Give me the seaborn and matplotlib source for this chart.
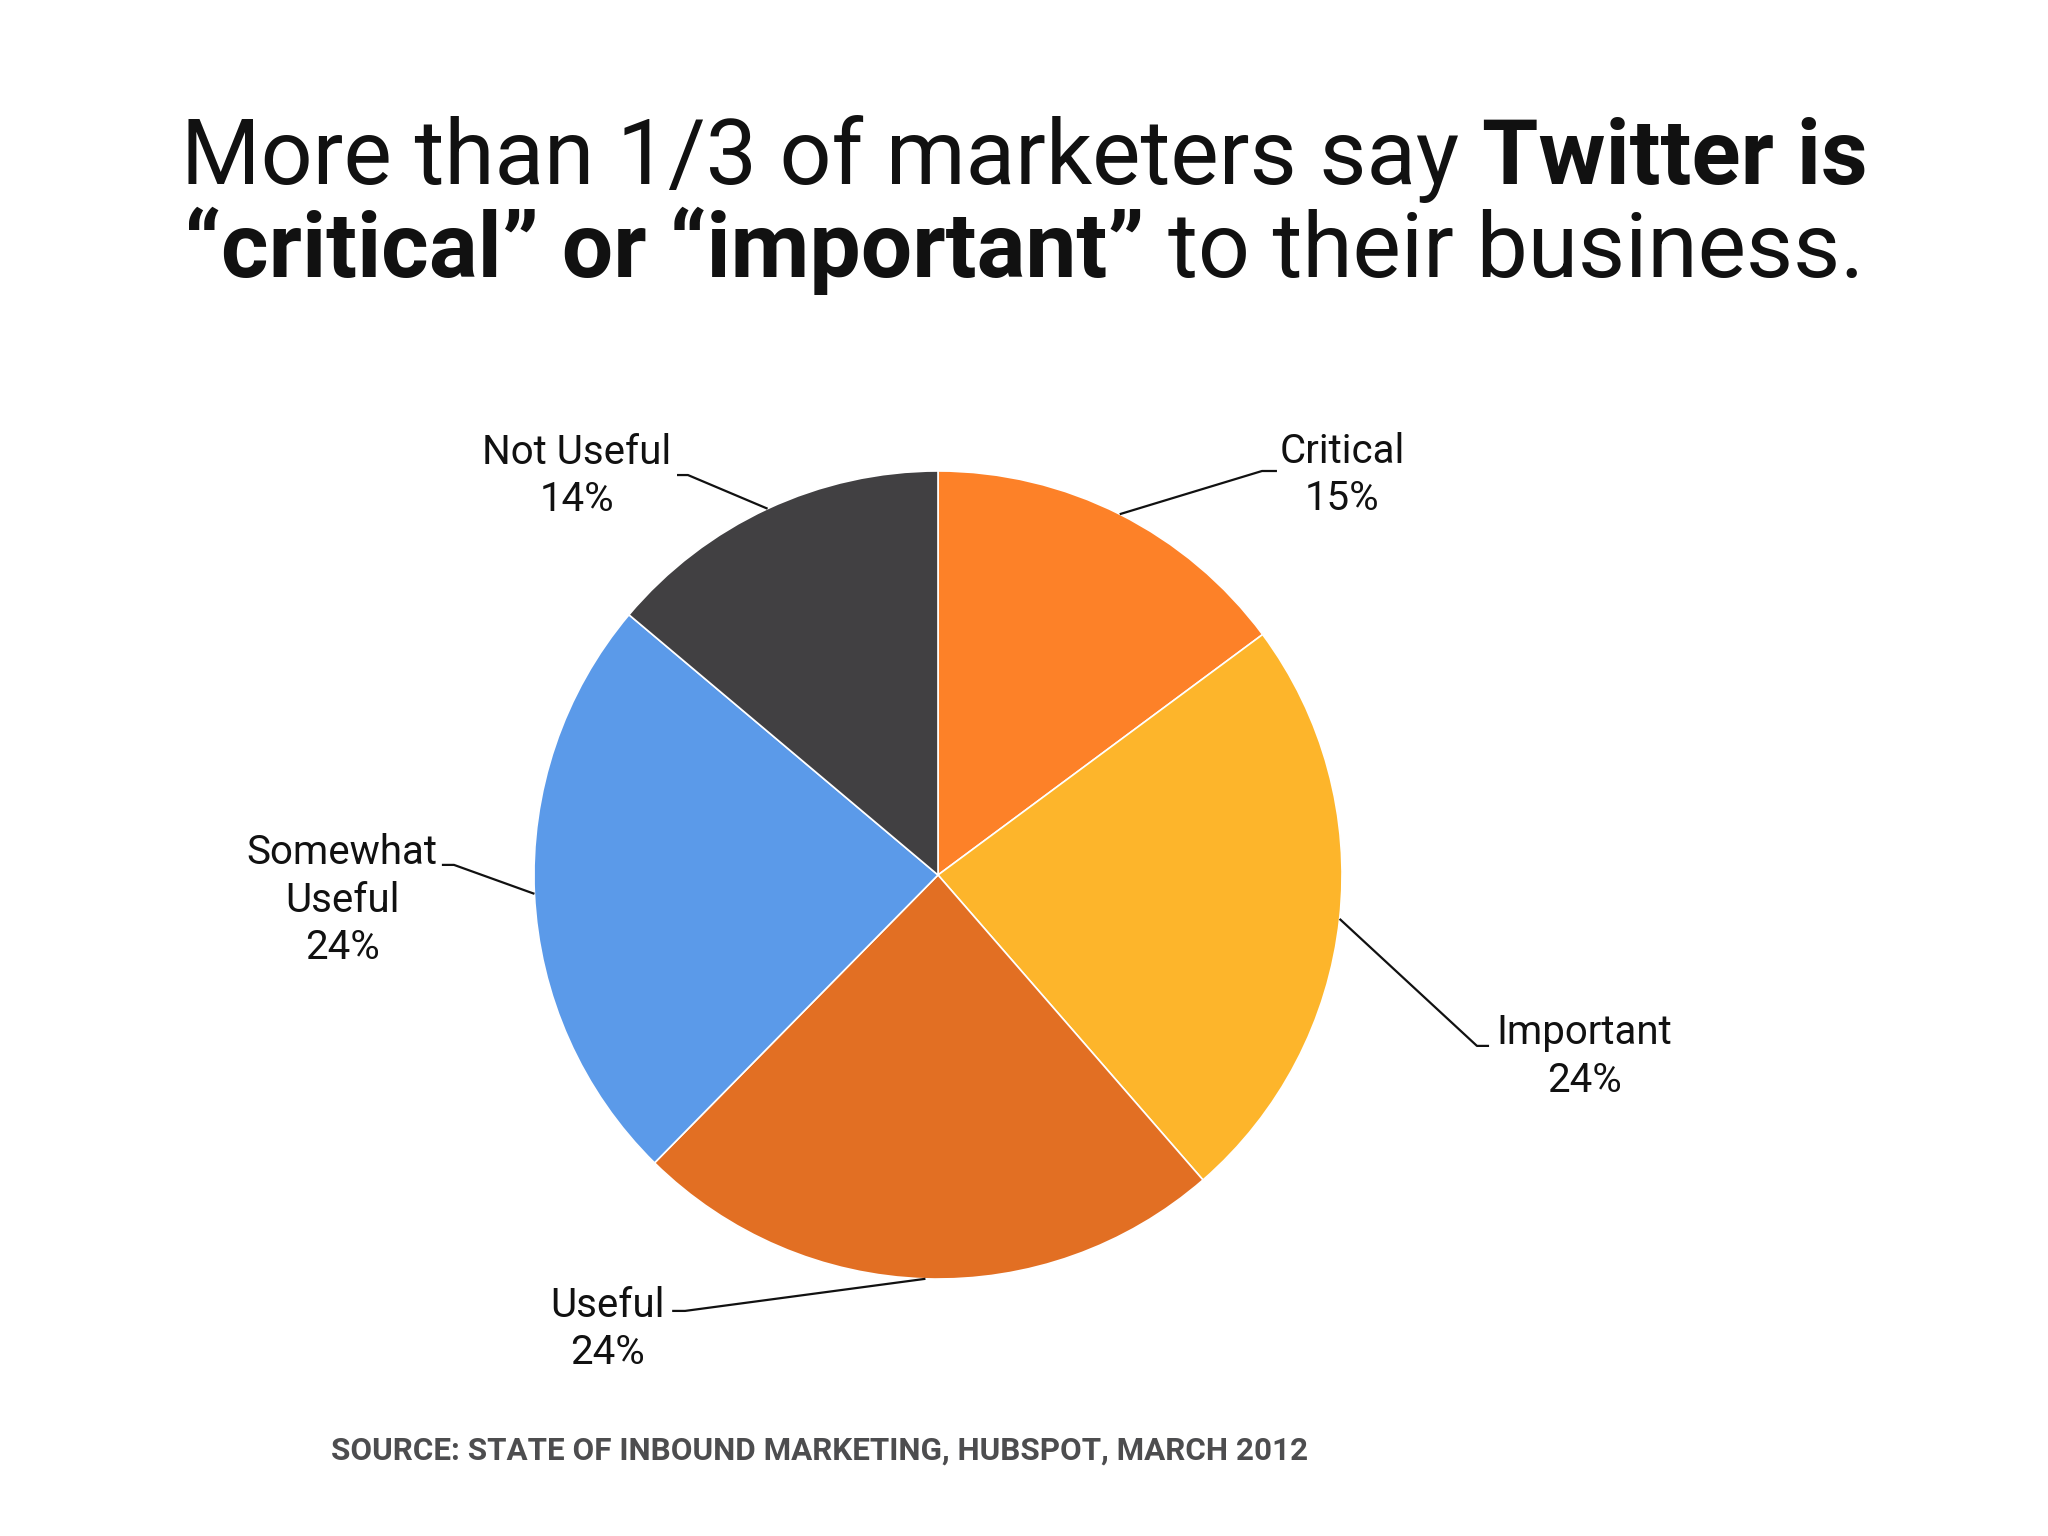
import matplotlib
matplotlib.use('Agg')
import matplotlib.pyplot as plt
import seaborn as sns
import numpy as np

# data
categories = ['Critical', 'Important', 'Useful', 'Somewhat\nUseful', 'Not Useful']
shares = [15, 24, 24, 24, 14]
colors = ['#FD8128', '#FDB52B', '#E26F23', '#5B9AE9', '#414042']

title_line1 = [('More than 1/3 of marketers say', 'normal'), ('Twitter is', 'bold')]
title_line2 = [('\u201ccritical\u201d or \u201cimportant\u201d', 'bold'), ('to their business.', 'normal')]
source_text = 'SOURCE: STATE OF INBOUND MARKETING, HUBSPOT, MARCH 2012'

# label layout (units of pie radius): text centre, elbow, tail of horizontal stub
label_pos = [(1.00, 0.99), (1.60, -0.45), (-0.817, -1.124), (-1.475, -0.062), (-0.894, 0.988)]
elbow_pos = [(0.802, 1.0), (1.334, -0.423), (-0.626, -1.079), (-1.198, 0.025), (-0.619, 0.99)]
tail_pos = [(0.839, 1.0), (1.364, -0.423), (-0.658, -1.079), (-1.228, 0.025), (-0.646, 0.99)]

sns.set_theme(style='white')
plt.rcParams['font.family'] = ['Roboto', 'DejaVu Sans']

fig = plt.figure(figsize=(20.48, 15.36), dpi=100)
fig.patch.set_facecolor('white')
ax = fig.add_axes([0, 0, 1, 1])

wedges, _ = ax.pie(shares, colors=colors, startangle=90, counterclock=False, radius=1,
                   wedgeprops=dict(edgecolor='white', linewidth=1.2))

R = 404  # pie radius in pixels
ax.set_xlim(-938 / R, (2048 - 938) / R)
ax.set_ylim((875 - 1536) / R, 875 / R)
ax.set_aspect('equal')
ax.axis('off')

for w, cat, val, tp, ep, sp in zip(wedges, categories, shares, label_pos, elbow_pos, tail_pos):
    mid = np.deg2rad((w.theta1 + w.theta2) / 2)
    ax.plot([np.cos(mid), ep[0], sp[0]], [np.sin(mid), ep[1], sp[1]],
            color='#111111', lw=1.6, solid_capstyle='butt')
    ax.text(tp[0], tp[1], f'{cat}\n{val}%', ha='center', va='center',
            multialignment='center', fontsize=29, color='#111111', linespacing=1.28)

# title, mixed weights
r = fig.canvas.get_renderer()
title_size = 65.6
gap = 0.25 * title_size * 100 / 72


def title_line(parts, y):
    texts = [fig.text(0, y, s, fontsize=title_size, fontweight=wt, color='#111111',
                      ha='left', va='baseline') for s, wt in parts]
    widths = [t.get_window_extent(r).width for t in texts]
    x = (fig.bbox.width - sum(widths) - gap * (len(texts) - 1)) / 2
    for t, wd in zip(texts, widths):
        t.set_x(x / fig.bbox.width)
        x += wd + gap


title_line(title_line1, 1 - 184 / 1536)
title_line(title_line2, 1 - 277 / 1536)

fig.text(820 / 2048, 1 - 1451 / 1536, source_text, ha='center', va='center',
         fontsize=22.6, fontweight='bold', color='#4D4D4F')

fig.savefig('out.png', dpi=100, facecolor='white')
